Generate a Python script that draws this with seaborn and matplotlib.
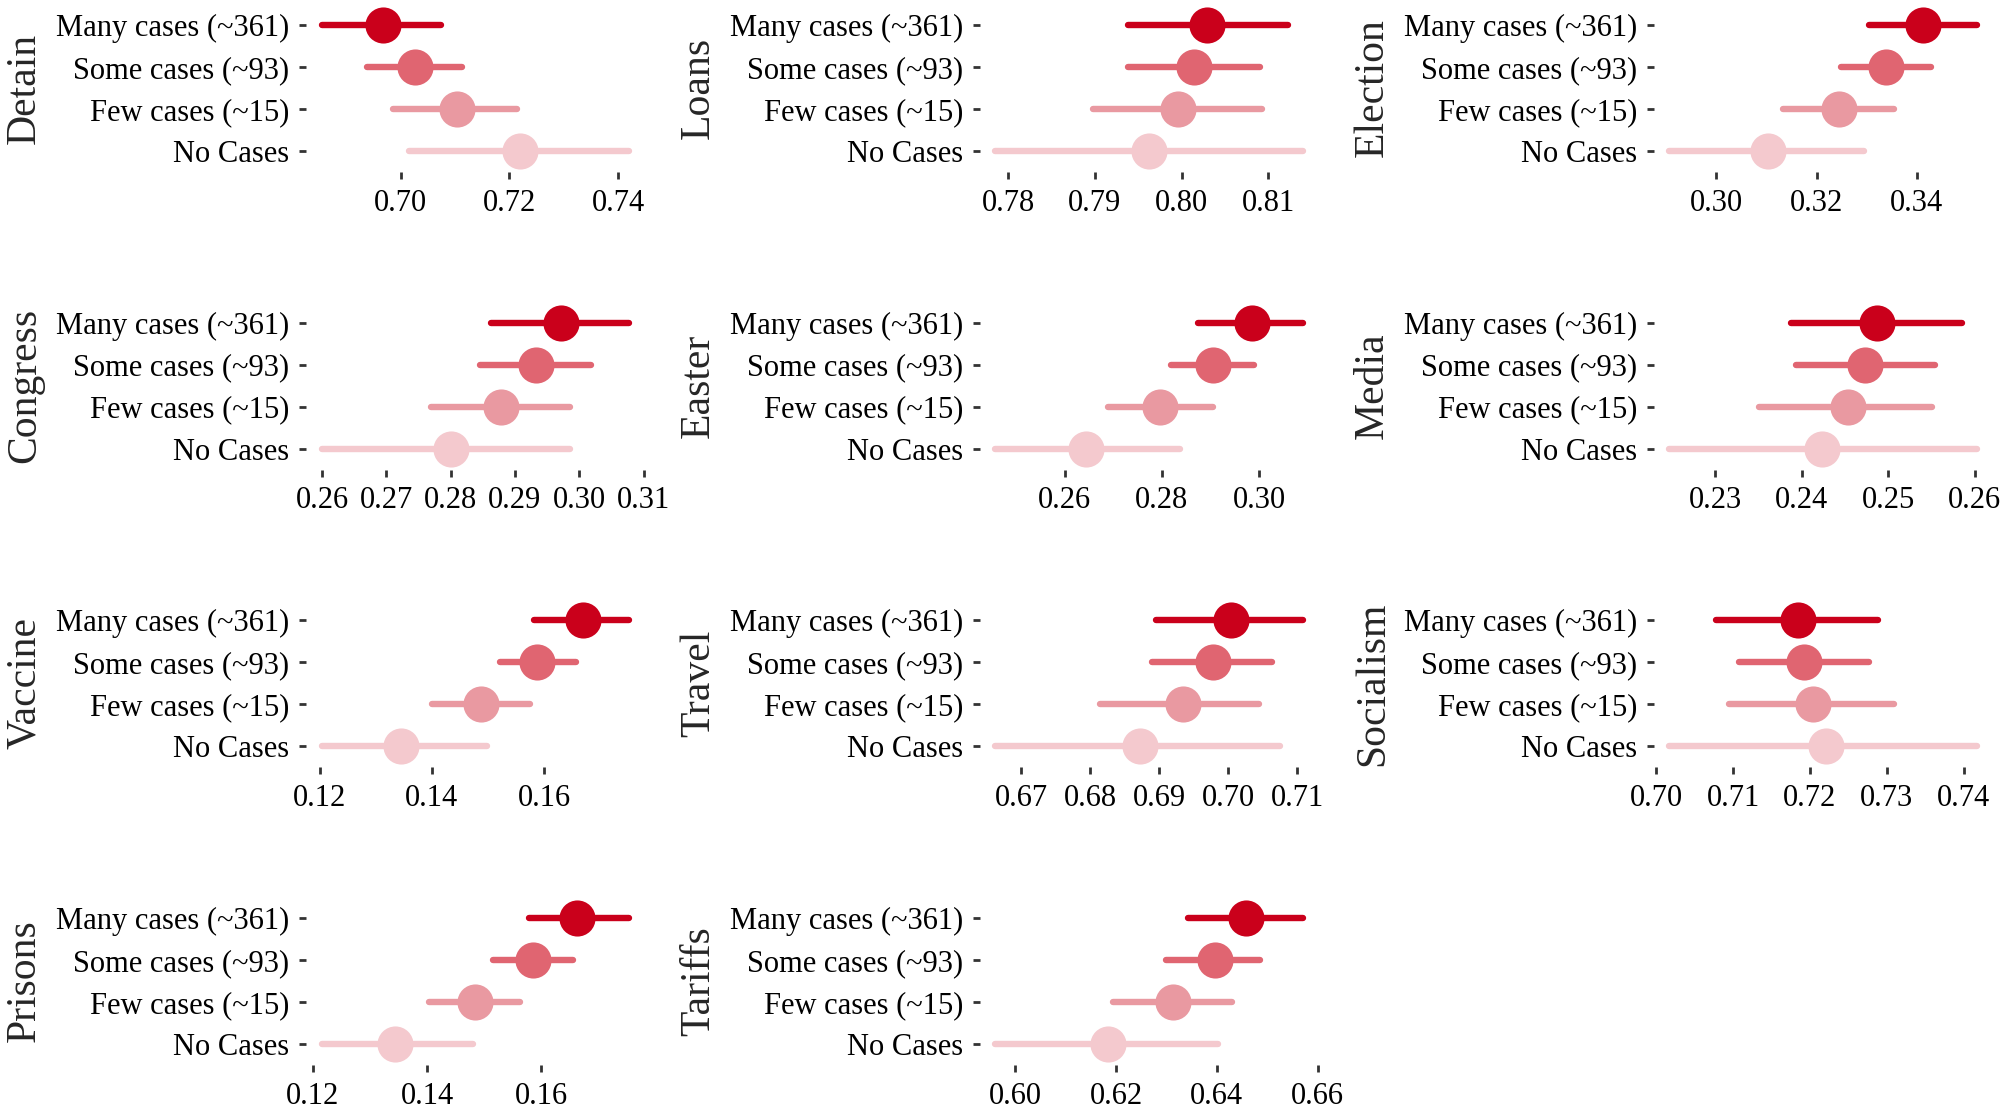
import numpy as np
import pandas as pd
import matplotlib.pyplot as plt
import seaborn as sns
from matplotlib.ticker import MultipleLocator

topics = ["Detain", "Loans", "Election", "Congress", "Easter", "Media",
          "Vaccine", "Travel", "Socialism", "Prisons", "Tariffs"]
groups = ["Many cases (~361)", "Some cases (~93)", "Few cases (~15)", "No Cases"]
colors = ["#ca001b", "#e06571", "#e999a1", "#f4c9ce"]
tick_steps = [0.02, 0.01, 0.02, 0.01, 0.02, 0.01, 0.02, 0.01, 0.01, 0.02, 0.02]

# point estimate and interval ends, one row per topic, columns follow `groups`
est = [
    [0.6967, 0.7026, 0.7104, 0.7219],
    [0.8030, 0.8014, 0.7996, 0.7962],
    [0.3413, 0.3339, 0.3245, 0.3104],
    [0.2972, 0.2932, 0.2879, 0.2800],
    [0.2984, 0.2904, 0.2796, 0.2643],
    [0.2487, 0.2473, 0.2453, 0.2423],
    [0.1670, 0.1588, 0.1487, 0.1345],
    [0.7004, 0.6978, 0.6934, 0.6872],
    [0.7185, 0.7192, 0.7204, 0.7221],
    [0.1663, 0.1585, 0.1484, 0.1343],
    [0.6458, 0.6396, 0.6312, 0.6185],
]
ci_lo = [
    [0.6855, 0.6939, 0.6987, 0.7016],
    [0.7938, 0.7938, 0.7898, 0.7785],
    [0.3304, 0.3249, 0.3133, 0.2906],
    [0.2862, 0.2845, 0.2770, 0.2599],
    [0.2875, 0.2819, 0.2689, 0.2458],
    [0.2387, 0.2393, 0.2351, 0.2247],
    [0.1582, 0.1522, 0.1400, 0.1203],
    [0.6896, 0.6890, 0.6815, 0.6663],
    [0.7078, 0.7108, 0.7095, 0.7017],
    [0.1579, 0.1515, 0.1404, 0.1215],
    [0.6342, 0.6300, 0.6194, 0.5961],
]
ci_hi = [
    [0.7074, 0.7112, 0.7213, 0.7419],
    [0.8123, 0.8091, 0.8093, 0.8140],
    [0.3520, 0.3429, 0.3355, 0.3295],
    [0.3077, 0.3018, 0.2985, 0.2986],
    [0.3089, 0.2989, 0.2904, 0.2837],
    [0.2585, 0.2554, 0.2550, 0.2602],
    [0.1751, 0.1657, 0.1574, 0.1498],
    [0.7108, 0.7064, 0.7045, 0.7075],
    [0.7289, 0.7277, 0.7309, 0.7417],
    [0.1753, 0.1656, 0.1563, 0.1480],
    [0.6570, 0.6486, 0.6430, 0.6402],
]

sns.set_theme(style="ticks")
plt.rcParams["font.family"] = ["Liberation Serif", "DejaVu Serif"]

fig, axes = plt.subplots(4, 3, figsize=(20.01, 11.14), dpi=100)
fig.subplots_adjust(left=0.153, right=0.9955, bottom=0.044, top=0.9964,
                    wspace=0.994, hspace=0.772)

for i, ax in enumerate(axes.flat):
    if i >= len(topics):
        ax.axis("off")
        continue
    rows = []
    for j, g in enumerate(groups):
        # median of (lo, est, hi) = est, full range = interval
        for v in (ci_lo[i][j], est[i][j], ci_hi[i][j]):
            rows.append({"group": g, "value": v})
    df = pd.DataFrame(rows)
    sns.pointplot(data=df, x="value", y="group", hue="group", order=groups,
                  hue_order=groups, palette=colors, estimator="median",
                  errorbar=("pi", 100), linestyle="none", markersize=26,
                  markeredgewidth=0, err_kws={"linewidth": 4.6},
                  legend=False, ax=ax)
    for s in ax.spines.values():
        s.set_visible(False)
    ax.xaxis.set_major_locator(MultipleLocator(tick_steps[i]))
    ax.tick_params(axis="both", length=5, width=2, color="#333333",
                   labelsize=22, labelcolor="black", pad=7)
    ax.set_xlabel("")
    ax.set_ylabel(topics[i], fontsize=30)
    ax.yaxis.set_label_coords(-0.775, 0.5)

plt.savefig("out.png", dpi=100)
